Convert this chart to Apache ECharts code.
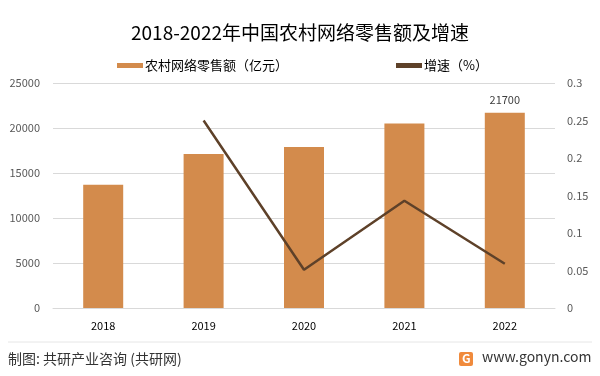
<!DOCTYPE html>
<html>
<head>
<meta charset="utf-8">
<script src="https://cdn.jsdelivr.net/npm/echarts@6/dist/echarts.min.js"></script>
<style>
  html, body { margin: 0; padding: 0; background: #fff; }
  #main { width: 600px; height: 376px; }
</style>
</head>
<body>
<div id="main"></div>
<script>
// 数据
var years = ["2018", "2019", "2020", "2021", "2022"];
var retailSales = [13700, 17100, 17900, 20500, 21700]; // 亿元
var growthRate = [null, 0.25, 0.051, 0.143, 0.059];
var leftTicks = [0, 5000, 10000, 15000, 20000, 25000];
var rightTicks = [0, 0.05, 0.1, 0.15, 0.2, 0.25, 0.3];

var barColor = "#D38B4C";
var lineColor = "#5E4129";
var fontFamily = "'Noto Sans CJK SC', 'Noto Sans', sans-serif";

var chart = echarts.init(document.getElementById("main"));

var option = {
  backgroundColor: "#ffffff",
  textStyle: { fontFamily: fontFamily },
  title: {
    text: "2018-2022年中国农村网络零售额及增速",
    left: "center",
    top: 18,
    textStyle: {
      color: "#000000",
      fontSize: 19,
      fontWeight: "normal",
      fontFamily: fontFamily
    }
  },
  legend: {
    left: 112,
    top: 54,
    itemWidth: 26,
    itemHeight: 5,
    itemGap: 108,
    textStyle: { color: "#000000", fontSize: 13, padding: [0, 0, 0, -3], fontFamily: fontFamily },
    data: [
      { name: "农村网络零售额（亿元）", icon: "rect" },
      { name: "增速（%）", icon: "rect" }
    ]
  },
  grid: {
    left: 53,
    right: 45,
    top: 83,
    bottom: 68
  },
  xAxis: {
    type: "category",
    data: years,
    axisLine: { lineStyle: { color: "#d9d9d9" } },
    axisTick: { show: false },
    axisLabel: { color: "#000000", fontSize: 11, margin: 12 }
  },
  yAxis: [
    {
      type: "value",
      min: leftTicks[0],
      max: leftTicks[leftTicks.length - 1],
      interval: 5000,
      axisLine: { show: false },
      axisTick: { show: false },
      axisLabel: {
        color: "#595959",
        fontSize: 11,
        margin: 13,
        formatter: function (v) { return String(v); }
      },
      splitLine: { lineStyle: { color: "#d9d9d9" } }
    },
    {
      type: "value",
      min: rightTicks[0],
      max: rightTicks[rightTicks.length - 1],
      interval: 0.05,
      axisLine: { show: false },
      axisTick: { show: false },
      axisLabel: { color: "#595959", fontSize: 11, margin: 12 },
      splitLine: { show: false }
    }
  ],
  series: [
    {
      name: "农村网络零售额（亿元）",
      type: "bar",
      data: retailSales.map(function (v, i) {
        return i === retailSales.length - 1
          ? { value: v, label: { show: true } }
          : v;
      }),
      barWidth: 40,
      itemStyle: { color: barColor },
      label: {
        show: false,
        position: "top",
        distance: 7,
        color: "#404040",
        fontSize: 11
      }
    },
    {
      name: "增速（%）",
      type: "line",
      yAxisIndex: 1,
      data: growthRate,
      showSymbol: false,
      symbol: "none",
      itemStyle: { color: lineColor },
      lineStyle: { color: lineColor, width: 2.5 }
    }
  ],
  graphic: [
    {
      type: "line",
      shape: { x1: 8, y1: 342, x2: 592, y2: 342 },
      style: { stroke: "#e6e6e6", lineWidth: 1 }
    },
    {
      type: "text",
      left: 8,
      top: 352,
      style: {
        text: "制图: 共研产业咨询 (共研网)",
        fill: "#333333",
        fontSize: 14,
        fontFamily: fontFamily
      }
    },
    {
      type: "rect",
      shape: { x: 459, y: 352, width: 14, height: 14, r: 2 },
      style: { fill: "#F08A3C" }
    },
    {
      type: "text",
      x: 462,
      y: 352,
      style: {
        text: "G",
        fill: "#ffffff",
        fontSize: 12,
        fontWeight: "bold",
        fontFamily: fontFamily
      }
    },
    {
      type: "text",
      left: 482,
      top: 350,
      style: {
        text: "www.gonyn.com",
        fill: "#333333",
        fontSize: 14,
        fontFamily: fontFamily
      }
    }
  ]
};

chart.setOption(option);
window.addEventListener("resize", function () {
  chart.resize();
});
</script>
</body>
</html>
